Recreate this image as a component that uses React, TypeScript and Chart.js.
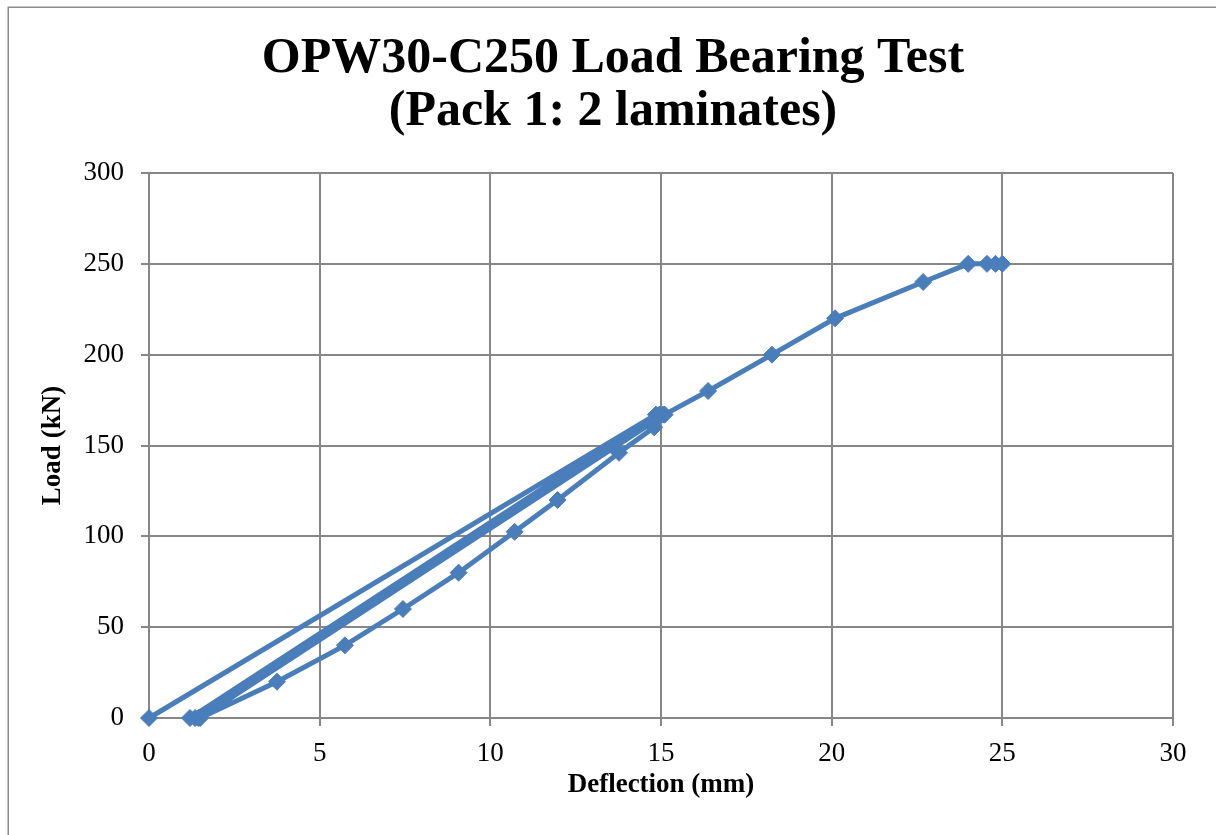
import React, { useEffect, useRef } from 'react';
import { Chart, registerables } from 'chart.js';

Chart.register(...registerables);

// Deflection (mm) and Load (kN), in test order
const deflection = [0, 14.85, 1.2, 14.95, 1.35, 15.05, 1.45, 15.1, 1.5, 3.75, 5.74, 7.44, 9.07, 10.71, 11.97, 13.77, 14.8, 15.1, 16.38, 18.25, 20.1, 22.68, 24.0, 24.55, 24.8, 25.0];
const load = [0, 167, 0, 167, 0, 167, 0, 167, 0, 20, 40, 60, 80, 102.5, 120, 146, 160, 167, 180, 200, 220, 240, 250, 250, 250, 250];

const titleLines = ['OPW30-C250 Load Bearing Test', '(Pack 1: 2 laminates)'];
const xTitle = 'Deflection (mm)';
const yTitle = 'Load (kN)';
const xRange = [0, 30];
const yRange = [0, 300];
const xStep = 5;
const yStep = 50;

const GRID = '#878787';
const LINE = '#4a7ebb';
const FONT = 'Liberation Serif';

const framePlugin = {
  id: 'frame',
  beforeDraw(chart: any) {
    const ctx = chart.ctx;
    ctx.save();
    ctx.fillStyle = '#ffffff';
    ctx.fillRect(0, 0, chart.width, chart.height);
    ctx.strokeStyle = '#8c8c8c';
    ctx.lineWidth = 1.5;
    ctx.strokeRect(8.25, 7.25, 1400, 1000);
    ctx.restore();
  },
};

export default function App() {
  const ref = useRef<HTMLCanvasElement | null>(null);

  useEffect(() => {
    if (!ref.current) return;
    const points = deflection.map((x, i) => ({ x, y: load[i] }));
    const chart = new Chart(ref.current, {
      type: 'scatter',
      data: {
        datasets: [
          {
            label: 'Load',
            data: points,
            showLine: true,
            borderColor: LINE,
            backgroundColor: LINE,
            borderWidth: 5,
            pointStyle: 'rectRot',
            pointRadius: 8.5,
            pointHoverRadius: 8.5,
            pointBackgroundColor: LINE,
            pointBorderColor: LINE,
            pointBorderWidth: 1,
            clip: false as any,
            tension: 0,
          },
        ],
      },
      options: {
        responsive: false,
        animation: false,
        devicePixelRatio: 1,
        layout: { padding: 0 },
        plugins: {
          legend: { display: false },
          tooltip: { enabled: false },
          title: {
            display: true,
            text: titleLines,
            color: '#000',
            font: { family: FONT, size: 50, weight: 'bold', lineHeight: 1.07 },
            padding: { top: 32, bottom: 34 },
          },
        },
        scales: {
          x: {
            type: 'linear',
            position: 'bottom',
            min: xRange[0],
            max: xRange[1],
            afterFit: (s: any) => {
              s.height = 117;
            },
            ticks: {
              stepSize: xStep,
              color: '#000',
              font: { family: FONT, size: 27 },
              padding: 12,
              maxRotation: 0,
            },
            grid: { color: GRID, lineWidth: 2, tickLength: 8, tickColor: GRID },
            border: { color: GRID, width: 2 },
            title: {
              display: true,
              text: xTitle,
              color: '#000',
              font: { family: FONT, size: 27, weight: 'bold' },
              padding: { top: 0, bottom: 34 },
            },
          },
          y: {
            type: 'linear',
            position: 'left',
            min: yRange[0],
            max: yRange[1],
            afterFit: (s: any) => {
              s.width = 149;
            },
            ticks: {
              stepSize: yStep,
              color: '#000',
              font: { family: FONT, size: 27 },
              padding: 17,
            },
            grid: { color: GRID, lineWidth: 2, tickLength: 8, tickColor: GRID },
            border: { color: GRID, width: 2 },
            title: {
              display: true,
              text: yTitle,
              color: '#000',
              font: { family: FONT, size: 27, weight: 'bold' },
              padding: { top: 37, bottom: 0 },
            },
          },
          yRight: {
            type: 'linear',
            position: 'right',
            min: yRange[0],
            max: yRange[1],
            afterFit: (s: any) => {
              s.width = 53;
            },
            ticks: { display: false },
            grid: { display: false },
            border: { display: false },
          },
        },
      },
      plugins: [framePlugin],
    } as any);
    return () => chart.destroy();
  }, []);

  return (
    <div style={{ position: 'fixed', left: 0, top: 0, width: 1216, height: 835, overflow: 'hidden', background: '#fff' }}>
      <canvas ref={ref} width={1226} height={835} style={{ display: 'block', width: 1226, height: 835 }} />
    </div>
  );
}
